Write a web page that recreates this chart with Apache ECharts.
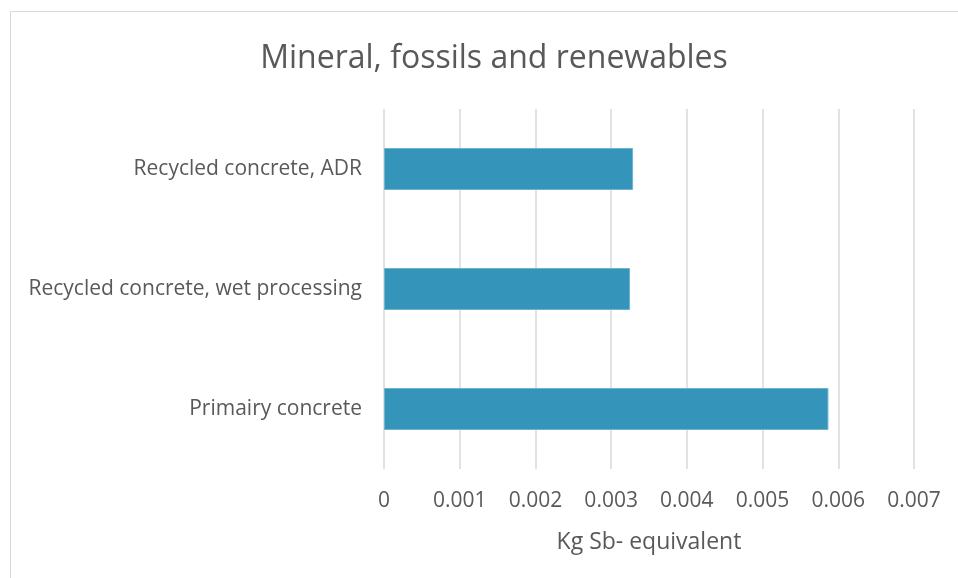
<!DOCTYPE html>
<html>
<head>
<meta charset="utf-8">
<script src="https://cdn.jsdelivr.net/npm/echarts@6/dist/echarts.min.js"></script>
<style>
  html, body { margin: 0; padding: 0; background: #fff; }
  #frame { position: absolute; left: 10px; top: 11px; width: 960px; height: 580px; border: 1px solid #d9d9d9; box-sizing: border-box; }
  #chart { position: absolute; left: 0; top: 0; width: 958px; height: 578px; }
</style>
</head>
<body>
<div id="frame"></div>
<div id="chart"></div>
<script>
const categories = ['Primairy concrete', 'Recycled concrete, wet processing', 'Recycled concrete, ADR'];
const values = [0.00587, 0.00325, 0.00329];
const xTicks = [0, 0.001, 0.002, 0.003, 0.004, 0.005, 0.006, 0.007];

const chart = echarts.init(document.getElementById('chart'));
const font = '"Open Sans", "Noto Sans", sans-serif';
chart.setOption({
  animation: false,
  title: {
    text: 'Mineral, fossils and renewables',
    left: 489, top: 38, textAlign: 'center',
    textStyle: { fontFamily: font, fontSize: 32, fontWeight: 'normal', color: '#595959' }
  },
  grid: { left: 384, right: 44, top: 109, bottom: 109, containLabel: false },
  xAxis: {
    type: 'value',
    min: xTicks[0], max: xTicks[xTicks.length - 1], interval: 0.001,
    name: 'Kg Sb- equivalent', nameLocation: 'middle', nameGap: 62,
    nameTextStyle: { fontFamily: font, fontSize: 23, color: '#595959' },
    axisLine: { show: false }, axisTick: { show: false },
    axisLabel: { fontFamily: font, fontSize: 21, color: '#595959', margin: 22,
      formatter: v => { const i = xTicks.findIndex(t => Math.abs(t - v) < 1e-9); return i >= 0 ? String(xTicks[i]) : ''; } },
    splitLine: { show: true, lineStyle: { color: '#d9d9d9', width: 1.5 } }
  },
  yAxis: {
    type: 'category', data: categories,
    axisLine: { show: false }, axisTick: { show: false },
    axisLabel: { fontFamily: font, fontSize: 21, color: '#595959', margin: 22 }
  },
  series: [{
    type: 'bar', data: values, barWidth: '35%',
    itemStyle: { color: '#3494ba', borderColor: '#6fb3cf', borderWidth: 1 }
  }]
});
</script>
</body>
</html>
